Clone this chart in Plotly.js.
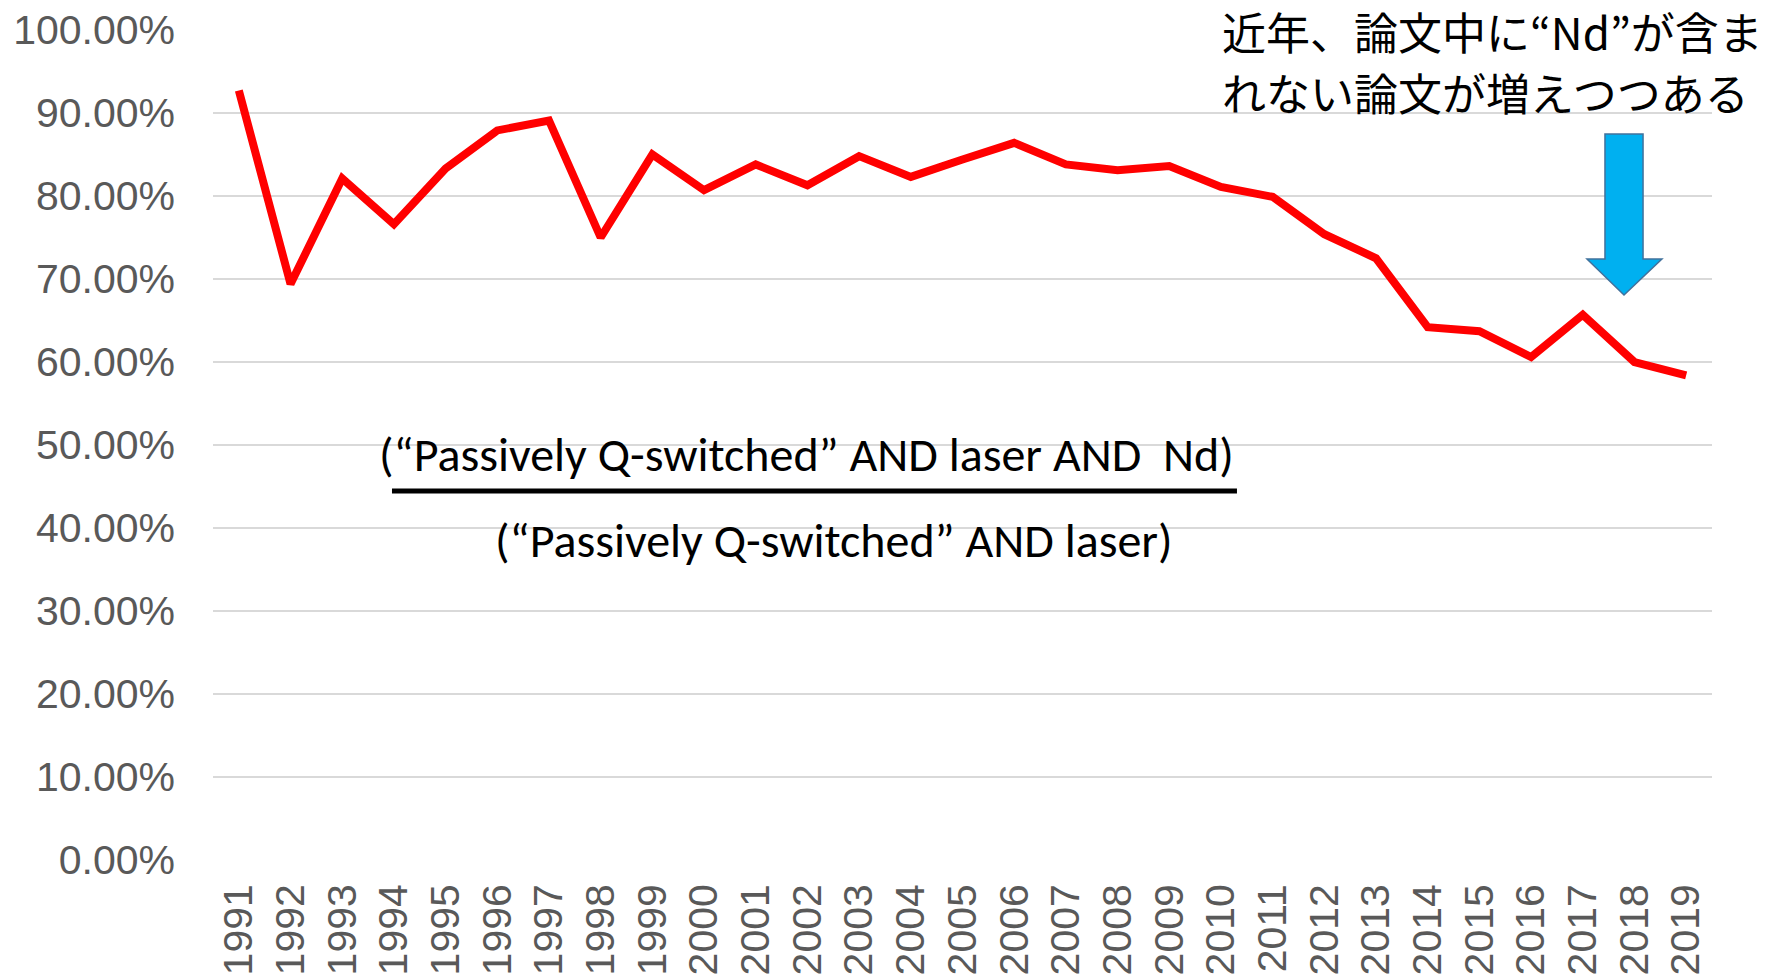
<!DOCTYPE html>
<html>
<head>
<meta charset="utf-8">
<script src="https://cdn.plot.ly/plotly-3.0.1.min.js"></script>
<style>
html,body{margin:0;padding:0;background:#fff;}
#chart{width:1781px;height:979px;}
</style>
</head>
<body>
<div id="chart"></div>
<script>
const years = ["1991","1992","1993","1994","1995","1996","1997","1998","1999","2000",
  "2001","2002","2003","2004","2005","2006","2007","2008","2009","2010",
  "2011","2012","2013","2014","2015","2016","2017","2018","2019"];
const ratio = [0.927,0.694,0.821,0.766,0.833,0.879,0.891,0.750,0.850,0.807,
  0.838,0.813,0.848,0.823,0.844,0.864,0.838,0.831,0.836,0.811,
  0.799,0.754,0.725,0.642,0.637,0.606,0.657,0.600,0.584];
const yTicks = [0,0.1,0.2,0.3,0.4,0.5,0.6,0.7,0.8,0.9,1.0];
const yTickText = ["0.00%","10.00%","20.00%","30.00%","40.00%","50.00%","60.00%","70.00%","80.00%","90.00%","100.00%"];
const noteJaLine1 = "近年、論文中に“Nd”が含ま";
const noteJaLine2 = "れない論文が増えつつある";
const numerText = "(“Passively Q-switched” AND laser AND  Nd)";
const denomText = "(“Passively Q-switched” AND laser)";

const tickFont = {family:"'Liberation Sans', Arial, sans-serif", size:41, color:"#595959"};
const latinFont = "Carlito, 'Open Sans', 'Noto Sans', sans-serif";
const jaFont = {family:"'Noto Sans CJK JP', sans-serif", size:44, color:"#000"};

const trace = {
  x: years, y: ratio, type:"scatter", mode:"lines",
  line:{color:"#FF0000", width:8},
  hoverinfo:"skip"
};

const layout = {
  width:1781, height:979,
  margin:{l:213, r:69, t:30, b:119, pad:0},
  paper_bgcolor:"#fff", plot_bgcolor:"#fff",
  showlegend:false,
  xaxis:{type:"category", tickangle:-90, showgrid:false, showline:false, zeroline:false,
    ticks:"", tickfont:tickFont, range:[-0.5,28.5], fixedrange:true, automargin:false, ticklabelstandoff:15},
  yaxis:{range:[0,1], tickvals:yTicks, ticktext:yTickText, showgrid:true, gridcolor:"#D9D9D9", gridwidth:2,
    zeroline:false, showline:false, ticks:"", tickfont:tickFont, fixedrange:true, automargin:false, ticklabelstandoff:37},
  annotations:[
    {xref:"paper", yref:"paper", x:0.6725, y:0.999, xanchor:"left", yanchor:"middle", align:"left",
      text:noteJaLine1, showarrow:false, font:jaFont, borderpad:0},
    {xref:"paper", yref:"paper", x:0.6725, y:0.925, xanchor:"left", yanchor:"middle", align:"left",
      text:noteJaLine2, showarrow:false, font:jaFont, borderpad:0},
    {xref:"paper", yref:"paper", x:0.396, y:0.489, xanchor:"center", yanchor:"middle",
      text:numerText, showarrow:false, font:{family:latinFont, size:48, color:"#000"}},
    {xref:"paper", yref:"paper", x:0.414, y:0.3855, xanchor:"center", yanchor:"middle",
      text:denomText, showarrow:false, font:{family:latinFont, size:48, color:"#000"}}
  ],
  shapes:[
    {type:"line", xref:"paper", yref:"paper", x0:0.1194, x1:0.6831, y0:0.4446, y1:0.4446,
      line:{color:"#000", width:5}},
    {type:"path", xref:"paper", yref:"paper",
      path:"M 0.9286 0.8747 L 0.954 0.8747 L 0.954 0.7241 L 0.9666 0.7241 L 0.9413 0.6807 L 0.9166 0.7241 L 0.9286 0.7241 Z",
      fillcolor:"#00B0F0", line:{color:"#41719C", width:1.5}}
  ]
};

Plotly.newPlot("chart", [trace], layout, {displayModeBar:false, staticPlot:true});
</script>
</body>
</html>
